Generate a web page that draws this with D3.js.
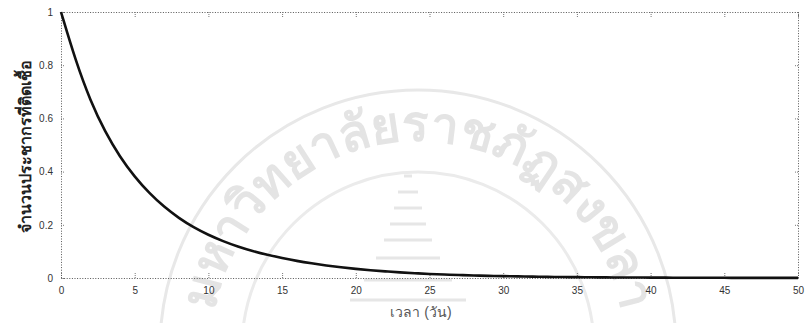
<!DOCTYPE html>
<html>
<head>
<meta charset="utf-8">
<script src="https://cdn.jsdelivr.net/npm/d3@7"></script>
<style>
  html, body { margin: 0; padding: 0; background: #fff; }
  svg { display: block; font-family: "Liberation Sans", "Noto Sans", "DejaVu Sans", sans-serif; }
</style>
</head>
<body>
<svg id="chart" width="807" height="323"></svg>
<script>
// Infected population fraction over time (days)
const days = d3.range(0, 51);
const infected = [
  1.000, 0.815, 0.665, 0.548, 0.455, 0.380, 0.318, 0.267, 0.225, 0.190,
  0.162, 0.138, 0.118, 0.101, 0.087, 0.075, 0.064, 0.055, 0.047, 0.040,
  0.034, 0.029, 0.025, 0.021, 0.018, 0.015, 0.013, 0.011, 0.0095, 0.008,
  0.007, 0.006, 0.005, 0.0043, 0.0037, 0.0032, 0.0027, 0.0023, 0.0020, 0.0017,
  0.0015, 0.0013, 0.0011, 0.0009, 0.0008, 0.0007, 0.0006, 0.0005, 0.0004, 0.0004,
  0.0003
];
const xTicks = [0, 5, 10, 15, 20, 25, 30, 35, 40, 45, 50];
const yTicks = [0, 0.2, 0.4, 0.6, 0.8, 1];
const yTickLabels = ["0", "0.2", "0.4", "0.6", "0.8", "1"];
const xTitle = "เวลา (วัน)";
const yTitle = "จำนวนประชากรที่ติดเชื้อ";
const sealText = "มหาวิทยาลัยราชภัฏสงขลา";

const svg = d3.select("#chart");
const plotLeft = 61, plotRight = 798, plotTop = 12, plotBottom = 278;

const x = d3.scaleLinear().domain([0, 50]).range([plotLeft, plotRight]);
const y = d3.scaleLinear().domain([0, 1]).range([plotBottom, plotTop]);

// faint university seal in the background
const seal = svg.append("g").attr("class", "seal");
const cx = 418, cy = 348;
seal.append("circle").attr("cx", cx).attr("cy", cy).attr("r", 258)
  .attr("fill", "none").attr("stroke", "#e8e8e8").attr("stroke-width", 3);
seal.append("circle").attr("cx", cx).attr("cy", cy).attr("r", 176)
  .attr("fill", "none").attr("stroke", "#ebebeb").attr("stroke-width", 3);
const rText = 207;
seal.append("path").attr("id", "sealArc")
  .attr("d", `M${cx - rText},${cy} A${rText},${rText} 0 0 1 ${cx + rText},${cy}`)
  .attr("fill", "none");
seal.append("text")
  .attr("font-size", 50).attr("fill", "#e4e4e4")
  .attr("stroke", "#e4e4e4").attr("stroke-width", 1.5)
  .attr("font-family", "'Noto Sans', 'DejaVu Sans', sans-serif")
  .append("textPath").attr("href", "#sealArc")
  .attr("startOffset", "50%").attr("text-anchor", "middle")
  .text(sealText);
// stacked pagoda bars
const bars = [[-4, 4, 176], [-10, 10, 192], [-14, 14, 208], [-18, 18, 224],
              [-24, 24, 240], [-32, 32, 258], [-44, 44, 280], [-58, 58, 300]];
seal.selectAll("line.bar").data(bars).join("line").attr("class", "bar")
  .attr("x1", d => cx - 10 + d[0]).attr("x2", d => cx - 10 + d[1])
  .attr("y1", d => d[2]).attr("y2", d => d[2])
  .attr("stroke", "#e6e6e6").attr("stroke-width", 3);

// axes (ticks pointing inward, dotted frame)
function styleAxis(g) {
  g.select(".domain").attr("stroke", "#555").attr("stroke-dasharray", "1,1.6");
  g.selectAll(".tick line").attr("stroke", "#777").attr("stroke-dasharray", "1,1");
  g.selectAll(".tick text").attr("fill", "#333").attr("font-size", 10);
}

svg.append("g").attr("transform", `translate(0,${plotBottom})`)
  .call(d3.axisBottom(x).tickValues(xTicks).tickSize(-5).tickSizeOuter(0).tickPadding(9)
    .tickFormat(d3.format("d")))
  .call(styleAxis);
svg.append("g").attr("transform", `translate(0,${plotTop})`)
  .call(d3.axisTop(x).tickValues(xTicks).tickSize(-5).tickSizeOuter(0).tickFormat(""))
  .call(styleAxis);
svg.append("g").attr("transform", `translate(${plotLeft},0)`)
  .call(d3.axisLeft(y).tickValues(yTicks).tickSize(-4).tickSizeOuter(0).tickPadding(8)
    .tickFormat((d, i) => yTickLabels[i]))
  .call(styleAxis);
svg.append("g").attr("transform", `translate(${plotRight},0)`)
  .call(d3.axisRight(y).tickValues(yTicks).tickSize(-4).tickSizeOuter(0).tickFormat(""))
  .call(styleAxis);

// the infection curve
const line = d3.line()
  .x((d, i) => x(days[i]))
  .y(d => y(d))
  .curve(d3.curveBasis);
svg.append("path").datum(infected)
  .attr("d", line)
  .attr("fill", "none")
  .attr("stroke", "#111")
  .attr("stroke-width", 2.6)
  .attr("stroke-linejoin", "round");

// axis titles
svg.append("text")
  .attr("x", 421).attr("y", 317)
  .attr("text-anchor", "middle")
  .attr("font-size", 14).attr("fill", "#555")
  .text(xTitle);
svg.append("text")
  .attr("transform", "translate(31,146) rotate(-90)")
  .attr("text-anchor", "middle")
  .attr("font-size", 16).attr("fill", "#222").attr("font-weight", "bold")
  .text(yTitle);
</script>
</body>
</html>
